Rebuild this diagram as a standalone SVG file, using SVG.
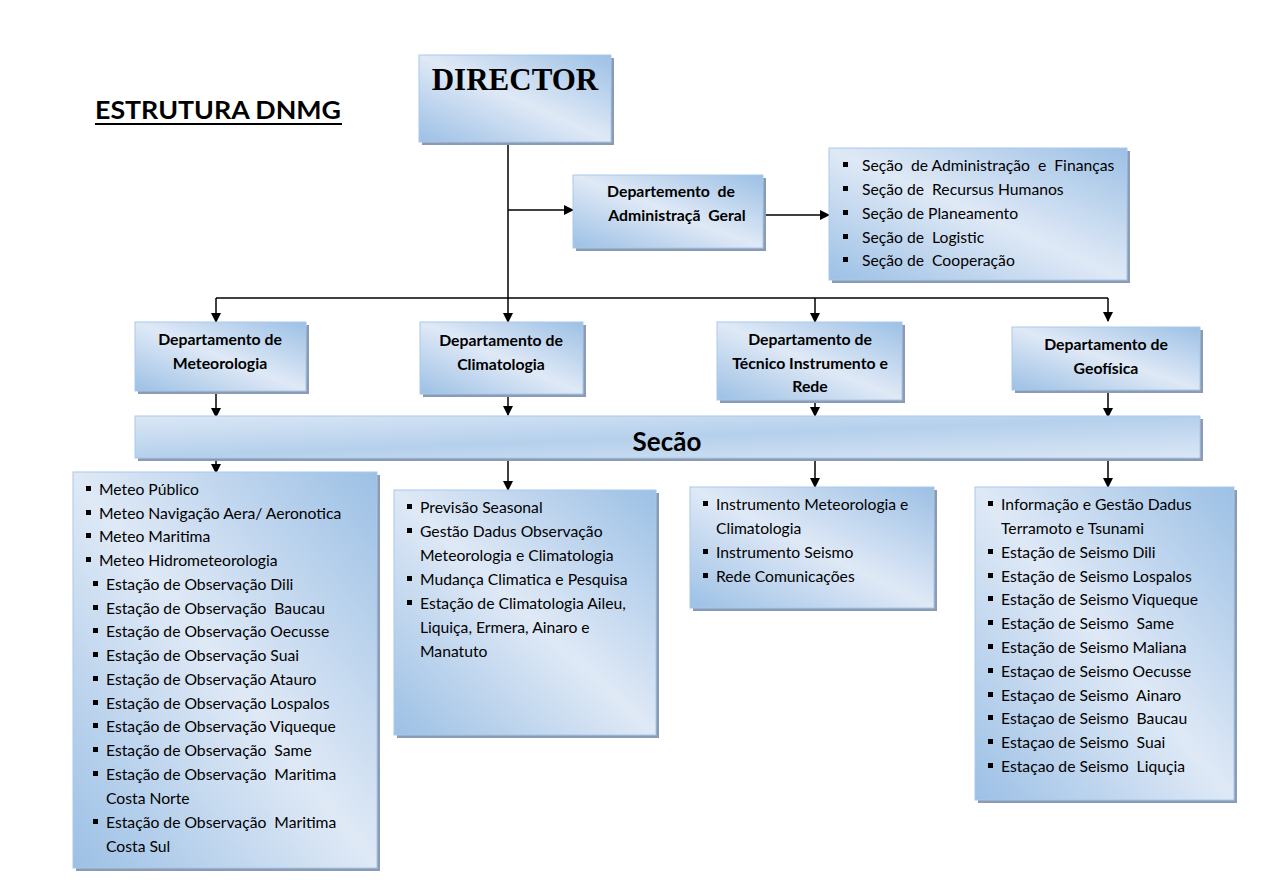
<svg xmlns="http://www.w3.org/2000/svg" width="1273" height="880" viewBox="0 0 1273 880">
<defs>
<linearGradient id="g" x1="1" y1="0" x2="0" y2="1">
<stop offset="0" stop-color="#9cc0e5"/>
<stop offset="0.5" stop-color="#dfe9f6"/>
<stop offset="1" stop-color="#9cc0e5"/>
</linearGradient>
<linearGradient id="gbar" x1="0" y1="0" x2="1" y2="1">
<stop offset="0" stop-color="#dbe7f5"/>
<stop offset="0.5" stop-color="#b5d0ec"/>
<stop offset="1" stop-color="#dbe7f5"/>
</linearGradient>
<marker id="ah" markerWidth="10" markerHeight="10" refX="9" refY="5" orient="auto" markerUnits="userSpaceOnUse">
<path d="M0,0 L10,5 L0,10 Z" fill="#000"/>
</marker>
<style>
text{white-space:pre}
.box{fill:url(#g);stroke:#a9c9e9;stroke-width:1}
.sh{fill:#8a9bb3}
.t{font-family:Lato,"Liberation Sans",sans-serif;font-size:15.7px;fill:#000}
.b{font-family:Lato,"Liberation Sans",sans-serif;font-size:15.8px;font-weight:bold;fill:#000;text-anchor:middle}
.c{stroke:#000;stroke-width:1.5;fill:none}
.ca{stroke:#000;stroke-width:1.5;fill:none;marker-end:url(#ah)}
.bl{fill:#000}
</style>
</defs>
<rect width="1273" height="880" fill="#fff"/>
<g id="title">
<text x="95" y="119" font-family="Lato,'Liberation Sans',sans-serif" font-size="24" font-weight="bold" textLength="246" lengthAdjust="spacingAndGlyphs">ESTRUTURA DNMG</text>
<rect x="95" y="123" width="247" height="2" fill="#000"/>
</g>
<g id="connectors">
<path class="c" d="M508,142 V298"/>
<path class="ca" d="M508,210 H573"/>
<path class="ca" d="M763,215 H829"/>
<path class="c" d="M216,298 H1108"/>
<path class="ca" d="M216,298 V322"/>
<path class="ca" d="M508,298 V322"/>
<path class="ca" d="M815,298 V322"/>
<path class="ca" d="M1108,298 V321"/>
<path class="ca" d="M216,391 V417"/>
<path class="ca" d="M508,394 V415"/>
<path class="ca" d="M815,400 V416"/>
<path class="ca" d="M1108,390 V417"/>
<path class="ca" d="M216,458 V473"/>
<path class="ca" d="M508,458 V490"/>
<path class="ca" d="M815,458 V487"/>
<path class="ca" d="M1108,458 V487"/>
</g>
<g id="director">
<rect class="sh" x="422" y="58" width="192" height="87"/>
<rect class="box" x="419" y="55" width="192" height="87"/>
<text x="515" y="90" font-family="'Liberation Serif',serif" font-size="31" font-weight="bold" text-anchor="middle">DIRECTOR</text>
</g>
<g id="dept-admin">
<rect class="sh" x="576" y="178" width="190" height="73"/>
<rect class="box" x="573" y="175" width="190" height="73"/>
<text class="b" x="671" y="197">Departemento  de</text>
<text class="b" x="677" y="221">Administraçã  Geral</text>
</g>
<g id="admin-list">
<rect class="sh" x="832" y="151" width="298" height="132"/>
<rect class="box" x="829" y="148" width="298" height="132"/>
<rect class="bl" x="843" y="162" width="5" height="5"/><text class="t" x="862" y="171">Seção  de Administração  e  Finanças</text>
<rect class="bl" x="843" y="186" width="5" height="5"/><text class="t" x="862" y="195">Seção de  Recursus Humanos</text>
<rect class="bl" x="843" y="210" width="5" height="5"/><text class="t" x="862" y="219">Seção de Planeamento</text>
<rect class="bl" x="843" y="234" width="5" height="5"/><text class="t" x="862" y="243">Seção de  Logistic</text>
<rect class="bl" x="843" y="257" width="5" height="5"/><text class="t" x="862" y="266">Seção de  Cooperação</text>
</g>
<g id="dept-meteo">
<rect class="sh" x="138" y="325" width="171" height="69"/>
<rect class="box" x="135" y="322" width="171" height="69"/>
<text class="b" x="220" y="345">Departamento de</text>
<text class="b" x="220" y="369">Meteorologia</text>
</g>
<g id="dept-clima">
<rect class="sh" x="423" y="325" width="163" height="72"/>
<rect class="box" x="420" y="322" width="163" height="72"/>
<text class="b" x="501" y="346">Departamento de</text>
<text class="b" x="501" y="370">Climatologia</text>
</g>
<g id="dept-tecnico">
<rect class="sh" x="720" y="325" width="185" height="78"/>
<rect class="box" x="717" y="322" width="185" height="78"/>
<text class="b" x="810" y="345">Departamento de</text>
<text class="b" x="810" y="369">Técnico Instrumento e</text>
<text class="b" x="810" y="392">Rede</text>
</g>
<g id="dept-geo">
<rect class="sh" x="1015" y="330" width="188" height="63"/>
<rect class="box" x="1012" y="327" width="188" height="63"/>
<text class="b" x="1106" y="350">Departamento de</text>
<text class="b" x="1106" y="374">Geofísica</text>
</g>
<g id="secao">
<rect class="sh" x="138" y="419" width="1065" height="42"/>
<rect x="135" y="416" width="1065" height="42" fill="url(#gbar)" stroke="#a9c9e9"/>
<text x="667" y="451" font-family="Lato,'Liberation Sans',sans-serif" font-size="26" font-weight="bold" text-anchor="middle">Secão</text>
</g>
<g id="meteo-list">
<rect class="sh" x="76" y="475" width="304" height="396"/>
<rect class="box" x="73" y="472" width="304" height="396"/>
<rect class="bl" x="86" y="486" width="5" height="5"/><text class="t" x="99" y="495">Meteo Público</text>
<rect class="bl" x="86" y="510" width="5" height="5"/><text class="t" x="99" y="519">Meteo Navigação Aera/ Aeronotica</text>
<rect class="bl" x="86" y="533" width="5" height="5"/><text class="t" x="99" y="542">Meteo Maritima</text>
<rect class="bl" x="86" y="557" width="5" height="5"/><text class="t" x="99" y="566">Meteo Hidrometeorologia</text>
<rect class="bl" x="93" y="581" width="5" height="5"/><text class="t" x="106" y="590">Estação de Observação Dili</text>
<rect class="bl" x="93" y="605" width="5" height="5"/><text class="t" x="106" y="614">Estação de Observação  Baucau</text>
<rect class="bl" x="93" y="628" width="5" height="5"/><text class="t" x="106" y="637">Estação de Observação Oecusse</text>
<rect class="bl" x="93" y="652" width="5" height="5"/><text class="t" x="106" y="661">Estação de Observação Suai</text>
<rect class="bl" x="93" y="676" width="5" height="5"/><text class="t" x="106" y="685">Estação de Observação Atauro</text>
<rect class="bl" x="93" y="700" width="5" height="5"/><text class="t" x="106" y="709">Estação de Observação Lospalos</text>
<rect class="bl" x="93" y="723" width="5" height="5"/><text class="t" x="106" y="732">Estação de Observação Viqueque</text>
<rect class="bl" x="93" y="747" width="5" height="5"/><text class="t" x="106" y="756">Estação de Observação  Same</text>
<rect class="bl" x="93" y="771" width="5" height="5"/><text class="t" x="106" y="780">Estação de Observação  Maritima</text>
<text class="t" x="106" y="804">Costa Norte</text>
<rect class="bl" x="93" y="819" width="5" height="5"/><text class="t" x="106" y="828">Estação de Observação  Maritima</text>
<text class="t" x="106" y="852">Costa Sul</text>
</g>
<g id="clima-list">
<rect class="sh" x="397" y="493" width="262" height="245"/>
<rect class="box" x="394" y="490" width="262" height="245"/>
<rect class="bl" x="407" y="504" width="5" height="5"/><text class="t" x="420" y="513">Previsão Seasonal</text>
<rect class="bl" x="407" y="528" width="5" height="5"/><text class="t" x="420" y="537">Gestão Dadus Observação</text>
<text class="t" x="420" y="561">Meteorologia e Climatologia</text>
<rect class="bl" x="407" y="576" width="5" height="5"/><text class="t" x="420" y="585">Mudança Climatica e Pesquisa</text>
<rect class="bl" x="407" y="600" width="5" height="5"/><text class="t" x="420" y="609">Estação de Climatologia Aileu,</text>
<text class="t" x="420" y="633">Liquiça, Ermera, Ainaro e</text>
<text class="t" x="420" y="657">Manatuto</text>
</g>
<g id="tecnico-list">
<rect class="sh" x="693" y="490" width="244" height="121"/>
<rect class="box" x="690" y="487" width="244" height="121"/>
<rect class="bl" x="703" y="501" width="5" height="5"/><text class="t" x="716" y="510">Instrumento Meteorologia e</text>
<text class="t" x="716" y="534">Climatologia</text>
<rect class="bl" x="703" y="549" width="5" height="5"/><text class="t" x="716" y="558">Instrumento Seismo</text>
<rect class="bl" x="703" y="573" width="5" height="5"/><text class="t" x="716" y="582">Rede Comunicações</text>
</g>
<g id="geo-list">
<rect class="sh" x="978" y="490" width="259" height="313"/>
<rect class="box" x="975" y="487" width="259" height="313"/>
<rect class="bl" x="988" y="501" width="5" height="5"/><text class="t" x="1001" y="510">Informação e Gestão Dadus</text>
<text class="t" x="1001" y="534">Terramoto e Tsunami</text>
<rect class="bl" x="988" y="549" width="5" height="5"/><text class="t" x="1001" y="558">Estação de Seismo Dili</text>
<rect class="bl" x="988" y="573" width="5" height="5"/><text class="t" x="1001" y="582">Estação de Seismo Lospalos</text>
<rect class="bl" x="988" y="596" width="5" height="5"/><text class="t" x="1001" y="605">Estação de Seismo Viqueque</text>
<rect class="bl" x="988" y="620" width="5" height="5"/><text class="t" x="1001" y="629">Estação de Seismo  Same</text>
<rect class="bl" x="988" y="644" width="5" height="5"/><text class="t" x="1001" y="653">Estação de Seismo Maliana</text>
<rect class="bl" x="988" y="668" width="5" height="5"/><text class="t" x="1001" y="677">Estaçao de Seismo Oecusse</text>
<rect class="bl" x="988" y="692" width="5" height="5"/><text class="t" x="1001" y="701">Estaçao de Seismo  Ainaro</text>
<rect class="bl" x="988" y="715" width="5" height="5"/><text class="t" x="1001" y="724">Estaçao de Seismo  Baucau</text>
<rect class="bl" x="988" y="739" width="5" height="5"/><text class="t" x="1001" y="748">Estaçao de Seismo  Suai</text>
<rect class="bl" x="988" y="763" width="5" height="5"/><text class="t" x="1001" y="772">Estaçao de Seismo  Liquçia</text>
</g>
</svg>
